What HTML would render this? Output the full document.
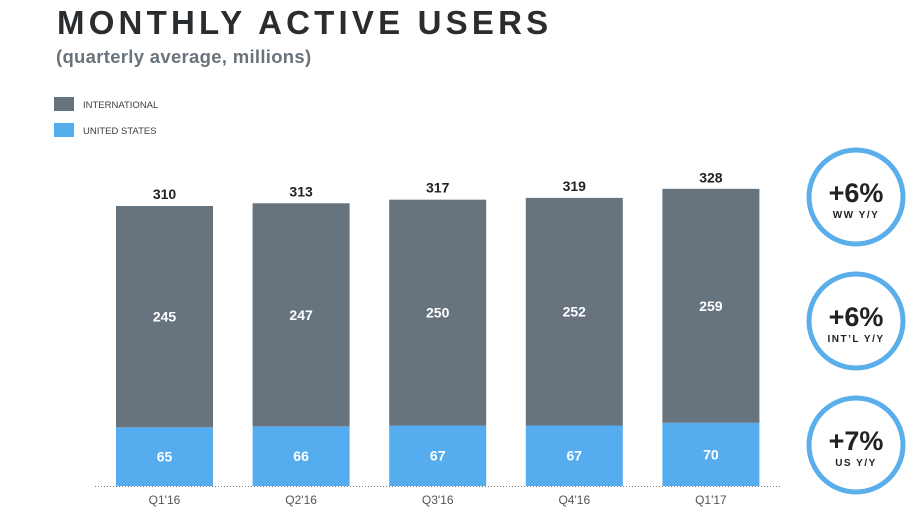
<!DOCTYPE html>
<html><head><meta charset="utf-8"><style>
body{margin:0;background:#fff;width:918px;height:528px;overflow:hidden;font-family:"Liberation Sans",sans-serif}
svg{display:block}
</style></head><body>
<svg id="chart" width="918" height="528">
<text x="57" y="34" font-size="33" font-weight="bold" fill="#2a2d30" letter-spacing="4.2">MONTHLY ACTIVE USERS</text>
<text x="56" y="63" font-size="18.5" font-weight="bold" fill="#6a737c" letter-spacing="0.3">(quarterly average, millions)</text>
<g>
<rect x="54" y="97" width="20" height="14" fill="#67737d"/>
<text x="83" y="108" font-size="9.5" fill="#3a3f44">INTERNATIONAL</text>
<rect x="54" y="123" width="20" height="14" fill="#55acee"/>
<text x="83" y="134" font-size="9.5" fill="#3a3f44">UNITED STATES</text>
</g>
<line x1="95" y1="486.5" x2="780" y2="486.5" stroke="#777" stroke-width="1" stroke-dasharray="1,2"/>
<g id="bars"></g>
<g id="circles"></g>
</svg>
<script>
const categories=["Q1'16","Q2'16","Q3'16","Q4'16","Q1'17"];
const usValues=[65,66,67,67,70];
const intlValues=[245,247,250,252,259];
const totals=[310,313,317,319,328];
const growthValues=["+6%","+6%","+7%"];
const growthLabels=["WW Y/Y","INT\u2019L Y/Y","US Y/Y"];

const NS="http://www.w3.org/2000/svg";
const baseY=486, scale=280/310, x0=116, step=136.6, bw=97;
const yS=v=>baseY-v*scale;
const xS=i=>x0+i*step;
function mk(tag,attrs,parent,txt){const e=document.createElementNS(NS,tag);for(const k in attrs)e.setAttribute(k,attrs[k]);if(txt!=null)e.textContent=txt;parent.appendChild(e);return e;}
const bars=document.getElementById('bars');
categories.forEach((c,i)=>{
  const x=xS(i);
  const us=mk('rect',{x:x,y:yS(usValues[i]),width:bw,height:usValues[i]*scale,fill:'#55acee'},bars);
  
  
  const it=mk('rect',{x:x,y:yS(usValues[i]+intlValues[i]),width:bw,height:intlValues[i]*scale,fill:'#67737d'},bars);
  
  
  const cx=x+bw/2;
  const t1=mk('text',{x:cx,y:yS(usValues[i]/2)+5,'text-anchor':'middle','font-size':14,'font-weight':'bold',fill:'#fff'},bars,usValues[i]);
  
  
  const t2=mk('text',{x:cx,y:yS(usValues[i]+intlValues[i]/2)+5,'text-anchor':'middle','font-size':14,'font-weight':'bold',fill:'#fff'},bars,intlValues[i]);
  
  
  const t3=mk('text',{x:cx,y:yS(totals[i])-7,'text-anchor':'middle','font-size':14,'font-weight':'bold',fill:'#222'},bars,totals[i]);
  
  
  const t4=mk('text',{x:cx,y:504,'text-anchor':'middle','font-size':12,fill:'#555'},bars,c);
  
  
});
const circ=document.getElementById('circles');
const cys=[197,321,445];
growthValues.forEach((g,i)=>{
  const c=mk('circle',{cx:856,cy:cys[i],r:47,fill:'#fff',stroke:'#5aaeea','stroke-width':5},circ);
  
  
  const a=mk('text',{x:856,y:cys[i]+5,'text-anchor':'middle','font-size':27,'font-weight':'bold',fill:'#222'},circ,g);
  
  
  const b=mk('text',{x:856,y:cys[i]+21,'text-anchor':'middle','font-size':10,'font-weight':'bold',fill:'#222','letter-spacing':1.5},circ,growthLabels[i]);
  
  
});
</script>
</body></html>
